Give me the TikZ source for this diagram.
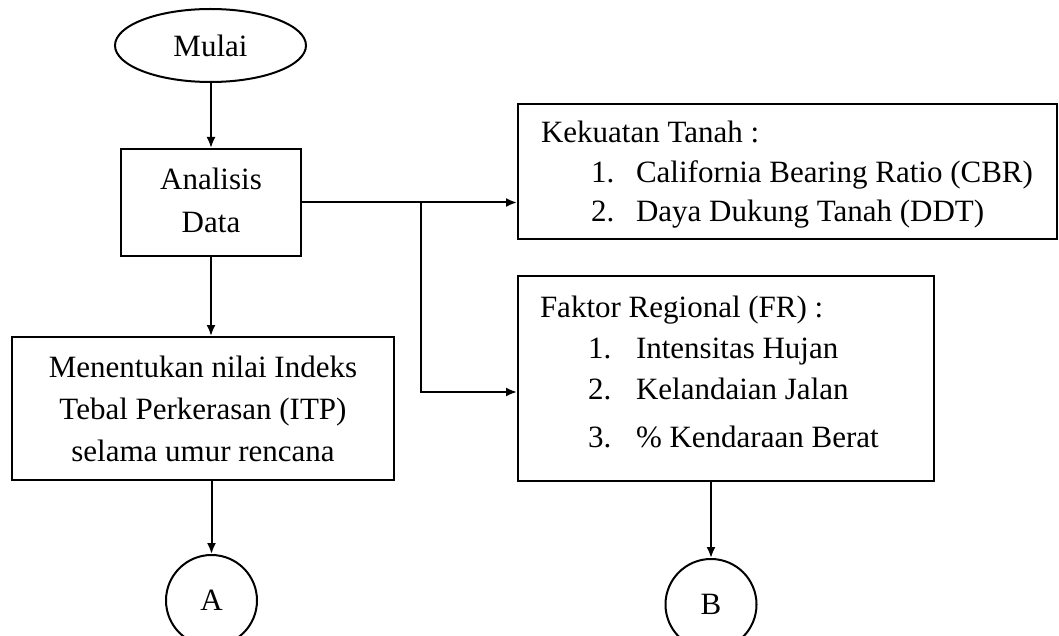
\documentclass[tikz,border=0pt]{standalone}
\usepackage{fontspec}
\setmainfont{Liberation Serif}
\usetikzlibrary{shapes.geometric,arrows.meta,calc}
\begin{document}
\begin{tikzpicture}[x=1pt,y=-1pt,
  line width=2pt,
  every node/.style={font=\fontsize{31}{43}\selectfont},
  boxnode/.style={draw,rectangle,inner sep=0pt},
  txt/.style={inner sep=0pt,anchor=base west},
  ctxt/.style={inner sep=0pt,anchor=base},
  arr/.style={-{Latex[length=11pt,width=9pt]}}]
\useasboundingbox (0,0) rectangle (1059,636);
% shapes
\node[draw,ellipse,minimum width=191pt,minimum height=73pt,inner sep=0pt] (mulai) at (210.5,45.5) {Mulai};
\node[boxnode,minimum width=180pt,minimum height=107pt] (analisis) at (211,202.5) {};
\node[boxnode,minimum width=382pt,minimum height=143pt] (menentukan) at (203,408.5) {};
\node[boxnode,minimum width=539pt,minimum height=135pt] (kekuatan) at (787.5,171.5) {};
\node[boxnode,minimum width=416pt,minimum height=205pt] (faktor) at (726,378.5) {};
\node[draw,circle,minimum size=91pt,inner sep=0pt] (A) at (211.5,600.5) {A};
\node[draw,circle,minimum size=91pt,inner sep=0pt] (B) at (711,604.5) {B};
% texts
\node[ctxt] (t1) at (211,190) {Analisis};
\node[ctxt] (t2) at (211,233) {Data};
\node[ctxt] (t3) at (203,377) {Menentukan nilai Indeks};
\node[ctxt] (t4) at (203,419) {Tebal Perkerasan (ITP)};
\node[ctxt] (t5) at (203,461) {selama umur rencana};
\node[txt] (k0) at (540,143) {Kekuatan Tanah :};
\node[txt] (k1n) at (590,183) {1.};
\node[txt] (k1) at (635,183) {California Bearing Ratio (CBR)};
\node[txt] (k2n) at (590,222) {2.};
\node[txt] (k2) at (635,222) {Daya Dukung Tanah (DDT)};
\node[txt] (f0) at (539,317) {Faktor Regional (FR) :};
\node[txt] (f1n) at (587,358) {1.};
\node[txt] (f1) at (635,358) {Intensitas Hujan};
\node[txt] (f2n) at (587,399) {2.};
\node[txt] (f2) at (635,399) {Kelandaian Jalan};
\node[txt] (f3n) at (587,447) {3.};
\node[txt] (f3) at (635,447) {\% Kendaraan Berat};
% connectors
\coordinate (j) at (421,202.5);
\coordinate (fin) at ([yshift=-13.5pt]faktor.west);
\draw[arr] (mulai.south -| analisis.north) -- (analisis.north);
\draw[arr] (analisis.south) -- (analisis.south |- menentukan.north);
\draw[arr] (A.north |- menentukan.south) -- (A.north);
\draw[arr] (analisis.east) -- (analisis.east -| kekuatan.west);
\draw[arr] (j) |- (fin);
\draw[arr] (B.north |- faktor.south) -- (B.north);
\end{tikzpicture}
\end{document}
